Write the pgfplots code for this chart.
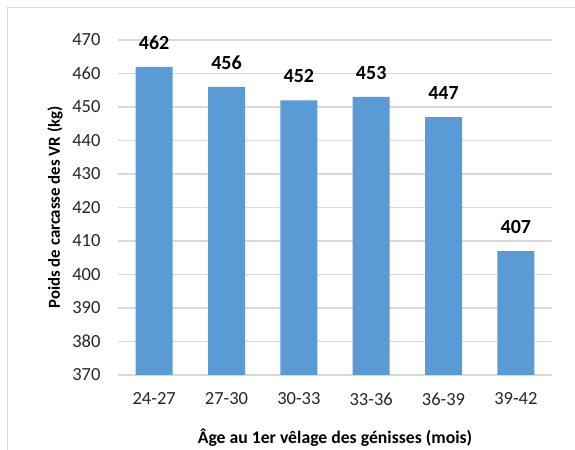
\documentclass[border=0pt]{standalone}
\usepackage{fontspec}
\setmainfont{Carlito}
\usepackage{pgfplots}
\pgfplotsset{compat=1.18}
\definecolor{barblue}{HTML}{5B9BD5}
\definecolor{gridgray}{HTML}{D9D9D9}
\definecolor{frame}{HTML}{D9D9D9}

\begin{document}
\begin{tikzpicture}[x=1bp,y=1bp]
\useasboundingbox (0,0) rectangle (575,450);
% chart frame (only top and left edges are visible in the crop)
\draw[frame, line width=1.5bp] (7.5,0) -- (7.5,442.5) -- (575,442.5);
\begin{axis}[
    at={(118bp,75bp)}, anchor=south west,
    scale only axis, width=434bp, height=335bp,
    ybar, bar width=37bp,
    ymin=370, ymax=470, ytick={370,380,...,470},
    xmin=-0.5, xmax=5.5, xtick=data,
    xticklabels={24-27,27-30,30-33,33-36,36-39,39-42},
    axis x line*=bottom, axis y line*=left,
    x axis line style={gridgray, line width=1.2bp},
    y axis line style={draw=none},
    major tick length=0pt,
    ymajorgrids=true, grid style={gridgray, line width=1.2bp},
    ticklabel style={font=\fontsize{18.5bp}{22bp}\selectfont, text=black!85},
    x tick label style={yshift=-14bp},
    y tick label style={xshift=-14bp},
    /pgf/number format/assume math mode=true,
    xlabel={Âge au 1er vêlage des génisses (mois)},
    ylabel={Poids de carcasse des VR (kg)},
    xlabel style={font=\bfseries\fontsize{17.7bp}{21bp}\selectfont, at={(axis description cs:0.5,-0.188)}, anchor=center},
    ylabel style={font=\bfseries\fontsize{16.8bp}{20bp}\selectfont, at={(axis description cs:-0.145,0.5)}, anchor=center},
    nodes near coords,
    nodes near coords style={font=\bfseries\fontsize{20bp}{24bp}\selectfont, anchor=south, inner sep=0pt, yshift=17bp, text=black},
]
\addplot[fill=barblue, draw=none, bar shift=0pt]
    coordinates {(0,462) (1,456) (2,452) (3,453) (4,447) (5,407)};
\end{axis}
\end{tikzpicture}
\end{document}
